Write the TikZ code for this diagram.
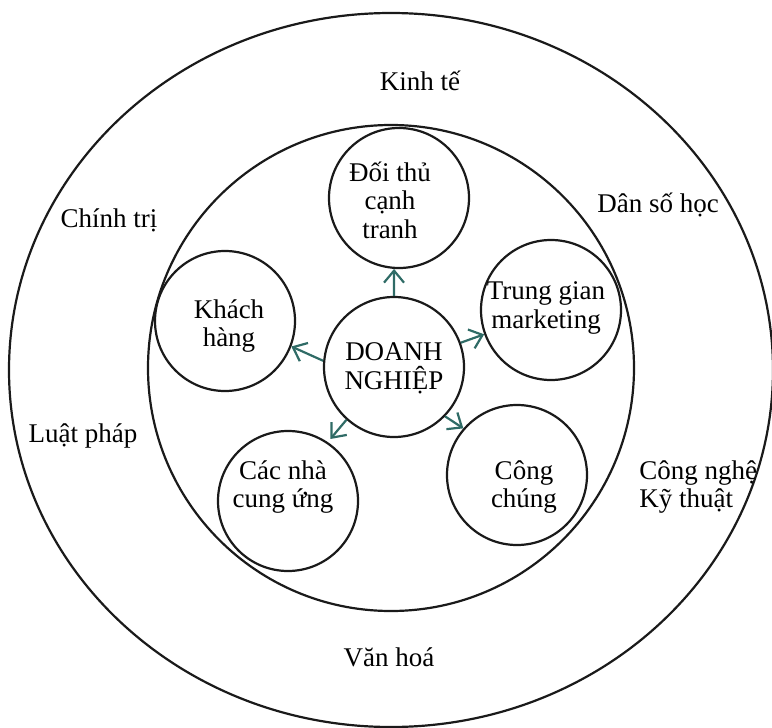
\documentclass[tikz,border=0pt]{standalone}
\usepackage{fontspec}
\setmainfont{Liberation Serif}
\usetikzlibrary{arrows.meta,positioning}
\definecolor{ink}{HTML}{1A1A1A}
\definecolor{teal}{HTML}{2F6B66}

\tikzset{
  ring/.style={draw=ink,line width=1.1pt},
  unit/.style={circle,draw=ink,line width=1.1pt,minimum size=70pt,inner sep=0pt},
  word/.style={align=center,inner sep=0pt,font=\fontsize{13.5}{14.3}\selectfont},
  link/.style={draw=teal,line width=1.1pt,-{Straight Barb[length=6pt,width=10pt]}}
}

\begin{document}
\begin{tikzpicture}[x=0.5pt,y=-0.5pt]
  \useasboundingbox (0,0) rectangle (772,728);
  % outer and inner environment
  \draw[ring] (391,370) ellipse [x radius=382, y radius=357];
  \draw[ring] (391,368) circle [radius=243];

  % actors
  \node[unit] (dn) at (394,367) {};
  \node[unit] (dt) at (399,198) {};
  \node[unit] (kh) at (225,321) {};
  \node[unit] (tg) at (551,310) {};
  \node[unit] (cu) at (288,501) {};
  \node[unit] (cc) at (517,475) {};

  \node[word] (dn-t) at (394,368) {DOANH\\NGHIỆP};
  \node[word] (dt-t) at (390,200) {Đối thủ\\cạnh\\tranh};
  \node[word] (kh-t) at (229,326) {Khách\\hàng};
  \node[word] (tg-t) at (546,308) {Trung gian\\marketing};
  \node[word] (cu-t) at (283,487) {Các nhà\\cung ứng};
  \node[word] (cc-t) at (524,487) {Công\\chúng};

  % macro forces
  \node[word] (kt) at (420,81) {Kinh tế};
  \node[word] (ct) at (109,220) {Chính trị};
  \node[word] (ds) at (658,205) {Dân số học};
  \node[word] (lp) at (83,436) {Luật pháp};
  \node[word,align=left,anchor=west] (cn) at (639,487) {Công nghệ\\Kỹ thuật};
  \node[word] (vh) at (389,657) {Văn hoá};

  % flows
  \draw[link] (dn.north) -- (dt.-94);
  \draw[link] (dn.175) -- (kh.-21);
  \draw[link] (dn.20) -- (tg.200);
  \draw[link,shorten >=2pt] (dn.228) -- (cu.56);
  \draw[link] (dn.-44) -- (cc.139);
\end{tikzpicture}
\end{document}
